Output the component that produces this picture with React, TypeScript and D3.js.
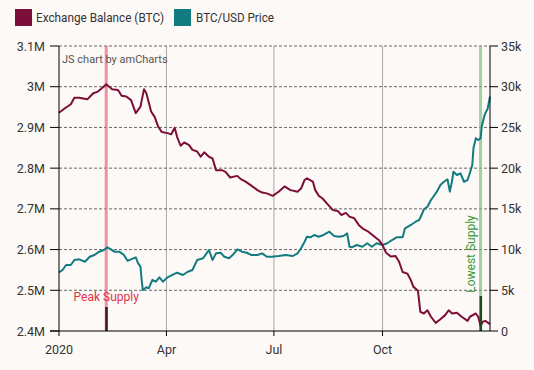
import * as d3 from "d3";

const leftTicks = [2.4, 2.5, 2.6, 2.7, 2.8, 2.9, 3.0, 3.1];
const rightTicks = [0, 5000, 10000, 15000, 20000, 25000, 30000, 35000];
const monthTicks = ["2020-01-01", "2020-04-01", "2020-07-01", "2020-10-01"];
const monthLabels = ["2020", "Apr", "Jul", "Oct"];

const balanceDates = [
  "01-01", "01-06", "01-11", "01-14", "01-18", "01-25", "01-30", "02-03", "02-07", "02-10",
  "02-15", "02-20", "02-23", "02-27", "03-02", "03-06", "03-10", "03-13", "03-15", "03-19",
  "03-22", "03-25", "03-28", "04-02", "04-05", "04-08", "04-10", "04-13", "04-16", "04-20",
  "04-23", "04-27", "04-30", "05-03", "05-07", "05-10", "05-13", "05-18", "05-21", "05-25",
  "05-31", "06-03", "06-07", "06-11", "06-17", "06-21", "06-25", "06-30", "07-05", "07-10",
  "07-15", "07-21", "07-24", "07-27", "07-29", "08-03", "08-05", "08-08", "08-11", "08-15",
  "08-20", "08-24", "08-27", "08-31", "09-03", "09-07", "09-11", "09-15", "09-19", "09-24",
  "09-28", "10-01", "10-04", "10-08", "10-12", "10-15", "10-18", "10-22", "10-25", "10-27",
  "10-31", "11-02", "11-05", "11-08", "11-11", "11-15", "11-19", "11-23", "11-26", "11-29",
  "12-03", "12-07", "12-12", "12-14", "12-19", "12-21", "12-23", "12-25", "12-27", "12-31",
];
const balanceValues = [
  2.936, 2.947, 2.957, 2.973, 2.973, 2.969, 2.984, 2.988, 2.998, 3.006,
  2.994, 2.992, 2.978, 2.976, 2.967, 2.935, 2.951, 2.994, 2.984, 2.939,
  2.926, 2.902, 2.889, 2.886, 2.883, 2.899, 2.877, 2.855, 2.863, 2.857,
  2.845, 2.841, 2.828, 2.839, 2.828, 2.824, 2.795, 2.795, 2.791, 2.777,
  2.781, 2.773, 2.767, 2.759, 2.746, 2.74, 2.738, 2.732, 2.742, 2.755,
  2.746, 2.742, 2.75, 2.771, 2.775, 2.767, 2.746, 2.732, 2.726, 2.713,
  2.697, 2.695, 2.685, 2.69, 2.681, 2.677, 2.66, 2.65, 2.644, 2.632,
  2.623, 2.611, 2.592, 2.583, 2.584, 2.57, 2.545, 2.541, 2.525, 2.509,
  2.499, 2.447, 2.443, 2.451, 2.435, 2.42, 2.429, 2.439, 2.451, 2.443,
  2.445, 2.435, 2.425, 2.435, 2.443, 2.435, 2.412, 2.423, 2.425, 2.417,
];

const priceDates = [
  "01-01", "01-04", "01-07", "01-11", "01-14", "01-18", "01-23", "01-27", "01-31", "02-04",
  "02-08", "02-11", "02-14", "02-17", "02-21", "02-25", "02-28", "03-02", "03-06", "03-08",
  "03-10", "03-11", "03-12", "03-15", "03-17", "03-20", "03-23", "03-26", "03-29", "04-02",
  "04-06", "04-10", "04-15", "04-19", "04-23", "04-27", "05-02", "05-06", "05-07", "05-10",
  "05-13", "05-17", "05-20", "05-24", "05-27", "05-31", "06-04", "06-08", "06-12", "06-17",
  "06-21", "06-25", "06-29", "07-05", "07-11", "07-17", "07-21", "07-24", "07-27", "07-29",
  "08-01", "08-04", "08-08", "08-12", "08-17", "08-21", "08-25", "08-29", "09-01", "09-03",
  "09-05", "09-09", "09-14", "09-18", "09-22", "09-26", "10-01", "10-05", "10-09", "10-13",
  "10-18", "10-20", "10-25", "10-29", "11-01", "11-03", "11-05", "11-08", "11-11", "11-13",
  "11-16", "11-19", "11-22", "11-25", "11-27", "11-29", "11-30", "12-03", "12-06", "12-09",
  "12-12", "12-14", "12-16", "12-17", "12-19", "12-21", "12-23", "12-24", "12-26", "12-27",
  "12-29", "12-31",
];
const priceValues = [
  7200, 7490, 8100, 8100, 8720, 8800, 8510, 9120, 9330, 9740,
  9950, 10280, 10030, 9740, 9740, 9330, 8630, 8800, 9050, 8310,
  7900, 6260, 5030, 5370, 5240, 6260, 6060, 6590, 6060, 6590,
  6880, 7160, 6880, 7280, 7490, 8720, 8930, 9740, 9950, 8720,
  9540, 9610, 9120, 8930, 9330, 10030, 9740, 9610, 9330, 9330,
  9540, 9120, 9120, 9210, 9330, 9210, 9540, 10160, 10970, 11580,
  11500, 11790, 11580, 11790, 12190, 11670, 11580, 11670, 12000, 10350,
  10280, 10560, 10350, 10770, 10350, 10770, 10560, 10770, 11170, 11500,
  11500, 12610, 13020, 13420, 13630, 14240, 14940, 15260, 16090, 16490,
  17110, 17930, 18330, 18630, 17110, 18540, 19560, 19160, 19360, 18330,
  18540, 19440, 20380, 22440, 23660, 23450, 23660, 25090, 26320, 26730,
  27300, 28800,
];

const peakDate = "02-10";
const lowestDate = "12-23";

const W = 534;
const H = 370;
const M = { left: 59, right: 490, top: 46, bottom: 331 };
const FONT = "Roboto, sans-serif";
const BALANCE = "#7b0f3a";
const PRICE = "#127b80";

const parse = (s: string) => d3.timeParse("%Y-%m-%d")(s.length === 5 ? "2020-" + s : s)!;

export default function App() {
  const x = d3
    .scaleTime()
    .domain([parse("2020-01-01"), parse("2020-12-31")])
    .range([M.left, M.right]);
  const yL = d3.scaleLinear().domain([2.4, 3.1]).range([M.bottom, M.top]);
  const yR = d3.scaleLinear().domain([0, 35000]).range([M.bottom, M.top]);

  const balance = balanceDates.map((d, i) => ({ date: parse(d), value: balanceValues[i] }));
  const price = priceDates.map((d, i) => ({ date: parse(d), value: priceValues[i] }));

  const balanceLine = d3
    .line<{ date: Date; value: number }>()
    .x((d) => x(d.date))
    .y((d) => yL(d.value));
  const priceLine = d3
    .line<{ date: Date; value: number }>()
    .x((d) => x(d.date))
    .y((d) => yR(d.value));

  const peakX = x(parse(peakDate));
  const lowX = x(parse(lowestDate));

  const fmtL = (v: number) => (Math.round(v * 10) / 10).toString() + "M";
  const fmtR = (v: number) => (v === 0 ? "0" : v / 1000 + "k");

  return (
    <div style={{ position: "absolute", left: 0, top: 0 }}>
      <svg width={W} height={H} style={{ display: "block", background: "#fdf9f6" }} fontFamily={FONT}>
        {/* Legend */}
        <rect x={15} y={9} width={17} height={17} fill={BALANCE} />
        <text x={36} y={22} fontSize={12.6} fill="#333" textLength={128} lengthAdjust="spacingAndGlyphs">
          Exchange Balance (BTC)
        </text>
        <rect x={174} y={9} width={17} height={17} fill={PRICE} />
        <text x={196} y={22} fontSize={12.6} fill="#333" textLength={78} lengthAdjust="spacingAndGlyphs">
          BTC/USD Price
        </text>

        {/* vertical grid */}
        {monthTicks.slice(1).map((m) => (
          <line key={m} x1={x(parse(m))} x2={x(parse(m))} y1={M.top} y2={M.bottom} stroke="#aaa" strokeWidth={1} />
        ))}
        {/* horizontal grid */}
        {leftTicks.slice(1).map((t) => (
          <line key={t} x1={M.left} x2={M.right} y1={yL(t)} y2={yL(t)} stroke="#444" strokeWidth={1} strokeDasharray="3,2" strokeOpacity={0.8} />
        ))}

        {/* event bands */}
        <line x1={peakX} x2={peakX} y1={M.top} y2={M.bottom} stroke="#e8707c" strokeOpacity={0.75} strokeWidth={3} />
        <line x1={lowX} x2={lowX} y1={M.top} y2={M.bottom} stroke="#7cc07c" strokeOpacity={0.7} strokeWidth={3} />

        <text x={peakX} y={301} fontSize={12} fill="#e0304a" textAnchor="middle">Peak Supply</text>
        <text
          x={0}
          y={0}
          fontSize={12}
          fill="#3a9a3a"
          textAnchor="middle"
          transform={`translate(${lowX - 6},${254}) rotate(-90)`}
        >
          Lowest Supply
        </text>

        <text x={62} y={63} fontSize={11} fill="#555">JS chart by amCharts</text>

        {/* series */}
        <path d={priceLine(price) ?? ""} fill="none" stroke={PRICE} strokeWidth={2} strokeLinejoin="round" />
        <path d={balanceLine(balance) ?? ""} fill="none" stroke={BALANCE} strokeWidth={2} strokeLinejoin="round" />

        {/* event grips */}
        <rect x={peakX - 1} y={307} width={2.5} height={M.bottom - 307} fill="#3a1a20" />
        <rect x={lowX - 1} y={296} width={2.5} height={M.bottom - 296} fill="#1f4a22" />

        {/* left axis */}
        <line x1={M.left} x2={M.left} y1={M.top} y2={M.bottom} stroke="#000" />
        {leftTicks.map((t) => (
          <g key={t}>
            <line x1={M.left - 9} x2={M.left} y1={yL(t)} y2={yL(t)} stroke="#000" />
            <text x={M.left - 14} y={yL(t) + 4.5} fontSize={12.5} fill="#333" textAnchor="end">{fmtL(t)}</text>
          </g>
        ))}
        {/* right axis */}
        <line x1={M.right} x2={M.right} y1={M.top} y2={M.bottom} stroke="#000" />
        {rightTicks.map((t) => (
          <g key={t}>
            <line x1={M.right} x2={M.right + 8} y1={yR(t)} y2={yR(t)} stroke="#000" />
            <text x={M.right + 11} y={yR(t) + 4.5} fontSize={12.5} fill="#333">{fmtR(t)}</text>
          </g>
        ))}
        {/* bottom axis */}
        <line x1={M.left - 9} x2={M.right} y1={M.bottom} y2={M.bottom} stroke="#000" />
        {monthTicks.map((m, i) => (
          <g key={m}>
            <line x1={x(parse(m))} x2={x(parse(m))} y1={M.bottom} y2={M.bottom + 5} stroke="#000" />
            <text x={x(parse(m))} y={354} fontSize={12.5} fill="#333" textAnchor="middle">{monthLabels[i]}</text>
          </g>
        ))}
      </svg>
    </div>
  );
}
